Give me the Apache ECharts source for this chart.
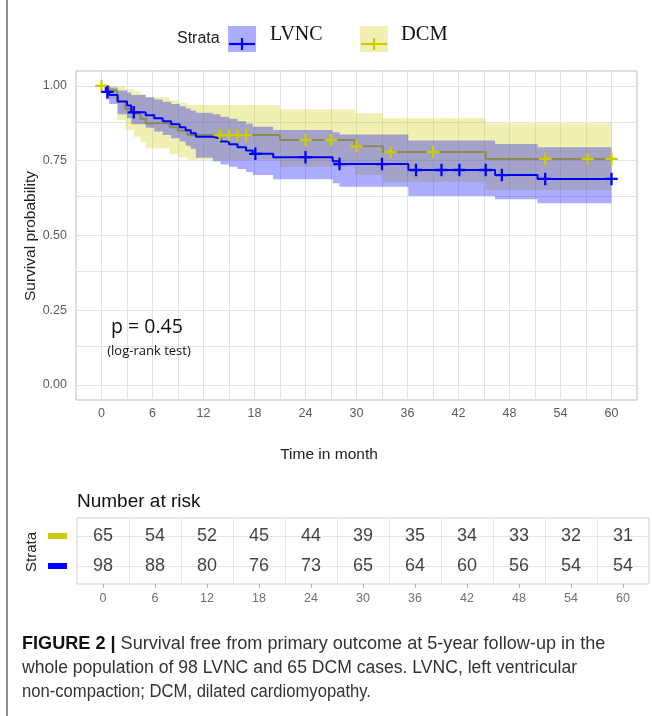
<!DOCTYPE html>
<html><head><meta charset="utf-8">
<script src="https://cdn.jsdelivr.net/npm/echarts@6/dist/echarts.min.js"></script>
<style>html,body{margin:0;padding:0;background:#fff}#c{width:652px;height:716px}</style>
</head><body><div id="c"></div>
<script>
// ---- Kaplan-Meier data ----
const lvncTime  = [0,0.5,0.9,1.9,3.0,3.5,5.2,6.2,7.2,8.2,9.2,9.9,10.5,11.1,13.1,14.0,15.0,16.0,17.0,17.8,20.2,27.2,28.0,36.1,46.3,51.3,60];
const lvncSurv  = [1.0,0.98,0.97,0.948,0.935,0.912,0.902,0.892,0.882,0.872,0.862,0.852,0.842,0.830,0.824,0.814,0.805,0.795,0.784,0.773,0.762,0.748,0.739,0.719,0.702,0.689,0.689];
const lvncLower = [1.0,0.955,0.94,0.905,0.893,0.872,0.86,0.848,0.836,0.825,0.814,0.80,0.79,0.76,0.748,0.737,0.73,0.722,0.712,0.702,0.688,0.675,0.663,0.632,0.621,0.608,0.608];
const lvncUpper = [1.0,1.0,0.995,0.985,0.978,0.97,0.962,0.955,0.947,0.94,0.932,0.925,0.918,0.91,0.905,0.897,0.89,0.882,0.874,0.864,0.853,0.845,0.838,0.818,0.806,0.795,0.795];
const lvncCensor = [0.7,3.8,18.1,24,28,33,37,40,42.1,45.2,47.1,52.2,60];

const dcmTime  = [0,0.9,1.85,2.8,3.8,4.6,5.2,8.0,9.0,10.1,21.0,29.8,33.1,45.2,60];
const dcmSurv  = [1.0,0.985,0.948,0.923,0.908,0.89,0.875,0.862,0.85,0.836,0.819,0.798,0.779,0.756,0.756];
const dcmLower = [1.0,0.955,0.886,0.853,0.83,0.812,0.792,0.772,0.762,0.753,0.730,0.702,0.680,0.652,0.652];
const dcmUpper = [1.0,1.0,0.998,0.99,0.983,0.972,0.962,0.952,0.944,0.936,0.921,0.909,0.892,0.875,0.875];
const dcmCensor = [0,13.9,15,16,17,24,27,30,34,39,52.2,57.2,60];

// ---- axes / risk table ----
const xTicks = [0,6,12,18,24,30,36,42,48,54,60];
const xMinor = [3,9,15,21,27,33,39,45,51,57];
const yTicks = [0,0.25,0.5,0.75,1.0];
const yMinor = [0.125,0.375,0.625,0.875];
const riskTimes = [0,6,12,18,24,30,36,42,48,54,60];
const riskDCM  = [65,54,52,45,44,39,35,34,33,32,31];
const riskLVNC = [98,88,80,76,73,65,64,60,56,54,54];

const BLUE = '#0000ff', YEL = '#cccc00';
const FONT = 'Liberation Sans, Arial, sans-serif';

function stepAt(times, vals, t) {
  let v = vals[0];
  for (let i = 0; i < times.length; i++) { if (times[i] <= t) v = vals[i]; }
  return v;
}

function bandSeries(times, lower, upper, fill, z) {
  return {
    type: 'custom', xAxisIndex: 0, yAxisIndex: 0, clip: true, silent: true, z: z,
    data: times.map((t, i) => [t, lower[i], upper[i]]),
    renderItem: function (params, api) {
      if (params.dataIndex !== 0) return null;
      const n = times.length, pts = [];
      for (let i = 0; i < n; i++) {
        const t1 = i + 1 < n ? times[i + 1] : times[i];
        pts.push(api.coord([times[i], upper[i]]), api.coord([t1, upper[i]]));
      }
      for (let i = n - 1; i >= 0; i--) {
        const t1 = i + 1 < n ? times[i + 1] : times[i];
        pts.push(api.coord([t1, lower[i]]), api.coord([times[i], lower[i]]));
      }
      return { type: 'polygon', shape: { points: pts }, style: { fill: fill } };
    }
  };
}

function kmLine(times, surv, color, z) {
  return {
    type: 'line', step: 'end', xAxisIndex: 0, yAxisIndex: 0, showSymbol: false, silent: true, z: z,
    data: times.map((t, i) => [t, surv[i]]),
    lineStyle: { color: color, width: 2 }, itemStyle: { color: color }
  };
}

const PLUS = 'path://M5,0h2.2v5h5v2.2h-5v5h-2.2v-5h-5v-2.2h5z';
function censorSeries(ct, times, surv, color) {
  return {
    type: 'scatter', xAxisIndex: 0, yAxisIndex: 0, symbol: PLUS, symbolSize: 12.5, silent: true, z: 8,
    data: ct.map(t => [t, stepAt(times, surv, t)]),
    itemStyle: { color: color, opacity: 1 }
  };
}

function gridMarks(xs, ys, color) {
  return {
    silent: true, symbol: ['none', 'none'], label: { show: false }, animation: false, z: 1,
    lineStyle: { color: color, width: 1, type: 'solid' },
    data: xs.map(v => ({ xAxis: v })).concat(ys.map(v => ({ yAxis: v })))
  };
}

// caption: per-line horizontal scale to match the reference line lengths
const captionLines = [
  '{b|FIGURE 2 |} Survival free from primary outcome at 5-year follow-up in the',
  'whole population of 98 LVNC and 65 DCM cases. LVNC, left ventricular',
  'non-compaction; DCM, dilated cardiomyopathy.'
];
const captionScale = [1.034, 1.004, 0.95];

const chart = echarts.init(document.getElementById('c'), null, { renderer: 'canvas' });

const option = {
  animation: false,
  backgroundColor: '#fff',
  grid: [
    { left: 76, top: 71, width: 561, height: 329, show: true, borderColor: '#bdbdbd', borderWidth: 1, backgroundColor: 'transparent', z: 0 },
    { left: 77, top: 518, width: 572, height: 66, show: true, borderColor: '#cfcfcf', borderWidth: 1, backgroundColor: 'transparent', z: 0 }
  ],
  xAxis: [
    { type: 'value', gridIndex: 0, min: -3, max: 63, axisLine: { show: false }, splitLine: { show: false },
      axisTick: { show: true, customValues: xTicks, length: 5, lineStyle: { color: '#b3b3b3' } },
      axisLabel: { customValues: xTicks, color: '#5a5a5a', fontSize: 12.5, fontFamily: FONT, margin: 7 } },
    { type: 'value', gridIndex: 1, min: -3, max: 63, axisLine: { show: false }, splitLine: { show: false },
      axisTick: { show: true, customValues: riskTimes, length: 4, lineStyle: { color: '#b3b3b3' } },
      axisLabel: { customValues: riskTimes, color: '#707070', fontSize: 12.5, fontFamily: FONT, margin: 8 } }
  ],
  yAxis: [
    { type: 'value', gridIndex: 0, min: -0.05, max: 1.05, axisLine: { show: false }, splitLine: { show: false },
      axisTick: { show: true, customValues: yTicks, length: 5, lineStyle: { color: '#b3b3b3' } },
      axisLabel: { customValues: yTicks, color: '#5a5a5a', fontSize: 12.5, fontFamily: FONT, margin: 9,
        formatter: v => Number(v).toFixed(2) } },
    { type: 'value', gridIndex: 1, min: 0.4, max: 2.6, axisLine: { show: false }, splitLine: { show: false },
      axisTick: { show: true, customValues: [1, 2], length: 4, lineStyle: { color: '#b3b3b3' } },
      axisLabel: { customValues: [1, 2], margin: 10,
        formatter: v => (v === 2 ? '{d| }' : '{l| }'),
        rich: { d: { backgroundColor: YEL, width: 19, height: 6, fontSize: 6 },
                l: { backgroundColor: BLUE, width: 19, height: 6, fontSize: 6 } } } }
  ],
  series: [
    { type: 'line', xAxisIndex: 0, yAxisIndex: 0, data: [[0, 1]], showSymbol: false, silent: true, z: 1,
      lineStyle: { opacity: 0 }, markLine: gridMarks(xTicks.concat(xMinor), yTicks.concat(yMinor), '#e3e3e3') },
    bandSeries(dcmTime, dcmLower, dcmUpper, 'rgba(204,204,0,0.30)', 2),
    kmLine(dcmTime, dcmSurv, YEL, 3),
    bandSeries(lvncTime, lvncLower, lvncUpper, 'rgba(0,0,255,0.32)', 4),
    kmLine(lvncTime, lvncSurv, BLUE, 5),
    censorSeries(dcmCensor, dcmTime, dcmSurv, YEL),
    censorSeries(lvncCensor, lvncTime, lvncSurv, BLUE),
    // risk table
    { type: 'line', xAxisIndex: 1, yAxisIndex: 1, data: [[0, 1]], showSymbol: false, silent: true, z: 1,
      lineStyle: { opacity: 0 }, markLine: gridMarks(xMinor, [1, 2], '#e6e6e6') },
    { type: 'scatter', xAxisIndex: 1, yAxisIndex: 1, symbolSize: 1, silent: true, z: 6,
      itemStyle: { color: 'transparent' },
      data: riskTimes.map((t, i) => [t, 2, riskDCM[i]]),
      label: { show: true, position: 'inside', formatter: p => String(p.value[2]), color: '#111', fontSize: 18, fontFamily: FONT } },
    { type: 'scatter', xAxisIndex: 1, yAxisIndex: 1, symbolSize: 1, silent: true, z: 6,
      itemStyle: { color: 'transparent' },
      data: riskTimes.map((t, i) => [t, 1, riskLVNC[i]]),
      label: { show: true, position: 'inside', formatter: p => String(p.value[2]), color: '#111', fontSize: 18, fontFamily: FONT } }
  ],
  graphic: [
    // left frame rule
    { type: 'line', silent: true, shape: { x1: 7, y1: 0, x2: 7, y2: 716 }, style: { stroke: '#8f8f8f', lineWidth: 2 } },
    // legend
    { type: 'text', x: 177, y: 39, style: { text: 'Strata', font: '16px ' + FONT, fill: '#222', verticalAlign: 'middle' } },
    { type: 'rect', shape: { x: 228, y: 26, width: 28, height: 26 }, style: { fill: 'rgba(0,0,255,0.32)' } },
    { type: 'line', shape: { x1: 229, y1: 44, x2: 255, y2: 44 }, style: { stroke: BLUE, lineWidth: 2.2 } },
    { type: 'line', shape: { x1: 242, y1: 38, x2: 242, y2: 50 }, style: { stroke: BLUE, lineWidth: 2.2 } },
    { type: 'text', x: 270, y: 35, style: { text: 'LVNC', font: '20px Liberation Serif, Times New Roman, serif', fill: '#111', verticalAlign: 'middle' } },
    { type: 'rect', shape: { x: 360, y: 26, width: 28, height: 26 }, style: { fill: 'rgba(204,204,0,0.30)' } },
    { type: 'line', shape: { x1: 361, y1: 44, x2: 387, y2: 44 }, style: { stroke: YEL, lineWidth: 2.2 } },
    { type: 'line', shape: { x1: 374, y1: 38, x2: 374, y2: 50 }, style: { stroke: YEL, lineWidth: 2.2 } },
    { type: 'text', x: 401, y: 35, style: { text: 'DCM', font: '20.5px Liberation Serif, Times New Roman, serif', fill: '#111', verticalAlign: 'middle' } },
    // axis titles
    { type: 'text', x: 31, y: 236, rotation: Math.PI / 2,
      style: { text: 'Survival probability', font: '15.5px ' + FONT, fill: '#222', align: 'center', verticalAlign: 'middle' } },
    { type: 'text', x: 329, y: 455, style: { text: 'Time in month', font: '15.5px ' + FONT, fill: '#222', align: 'center', verticalAlign: 'middle' } },
    // p-value annotation
    { type: 'text', x: 147, y: 327, z: 10, style: { text: 'p = 0.45', font: '19.5px Open Sans, ' + FONT, fill: '#111', align: 'center', verticalAlign: 'middle' } },
    { type: 'text', x: 149, y: 351, z: 10, style: { text: '(log-rank test)', font: '13px Open Sans, ' + FONT, fill: '#111', align: 'center', verticalAlign: 'middle' } },
    // risk table title and strata label
    { type: 'text', x: 77, y: 502, style: { text: 'Number at risk', font: '19px ' + FONT, fill: '#111', verticalAlign: 'middle' } },
    { type: 'text', x: 32, y: 552, rotation: Math.PI / 2,
      style: { text: 'Strata', font: '15px ' + FONT, fill: '#222', align: 'center', verticalAlign: 'middle' } }
  ].concat(captionLines.map((txt, i) => ({
    type: 'text', x: 22, y: 644 + 24 * i, scaleX: captionScale[i],
    style: { text: txt, font: '17.5px ' + FONT, fill: '#333', verticalAlign: 'middle',
      rich: { b: { fontWeight: 'bold', fontSize: 17.5, fontFamily: FONT, fill: '#111' } } }
  })))
};
chart.setOption(option);
</script>
</body></html>
